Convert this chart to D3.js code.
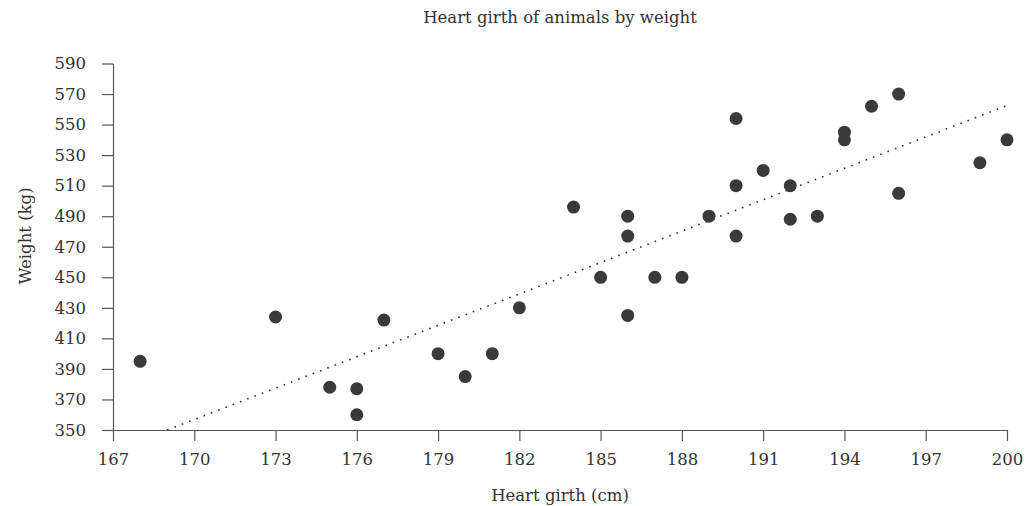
<!DOCTYPE html>
<html>
<head>
<meta charset="utf-8">
<script src="https://cdn.jsdelivr.net/npm/d3@7.9.0/dist/d3.min.js"></script>
<style>
  body { margin: 0; background: #fff; }
  svg text { font-family: "DejaVu Serif", serif; fill: #333; }
</style>
</head>
<body>
<div id="chart"></div>
<script>
// heart girth (cm) and weight (kg)
const girth  = [168, 173, 175, 176, 176, 177, 179, 180, 181, 182, 184, 185, 186, 186, 186, 187,
                188, 189, 190, 190, 190, 191, 192, 192, 193, 194, 194, 195, 196, 196, 199, 200];
const weight = [395, 424, 378, 377, 360, 422, 400, 385, 400, 430, 496, 450, 490, 477, 425, 450,
                450, 490, 554, 510, 477, 520, 510, 488, 490, 545, 540, 562, 570, 505, 525, 540];

// fitted trend line end points
const trendX = [169, 200];
const trendY = [350, 562.5];

const xTicks = [167, 170, 173, 176, 179, 182, 185, 188, 191, 194, 197, 200];
const yTicks = [350, 370, 390, 410, 430, 450, 470, 490, 510, 530, 550, 570, 590];

const width = 1029, height = 506;
const margin = { top: 63.5, right: 22, bottom: 76, left: 113 };

const svg = d3.select('#chart').append('svg')
  .attr('width', width)
  .attr('height', height);

const xScale = d3.scaleLinear().domain([167, 200]).range([margin.left, width - margin.right]);
const yScale = d3.scaleLinear().domain([350, 590]).range([height - margin.bottom, margin.top]);

// axes
svg.append('g')
  .attr('transform', `translate(0,${height - margin.bottom})`)
  .call(d3.axisBottom(xScale).tickValues(xTicks).tickSize(11).tickSizeOuter(0).tickPadding(12));

svg.append('g')
  .attr('transform', `translate(${margin.left},0)`)
  .call(d3.axisLeft(yScale).tickValues(yTicks).tickSize(11).tickSizeOuter(0).tickPadding(16));

svg.selectAll('.domain, .tick line').attr('stroke', '#555').attr('stroke-width', 1.2);
svg.selectAll('.tick text').attr('font-size', 16.5).attr('fill', '#333')
  .style('font-family', '"DejaVu Serif", serif');

// trend line
const trend = trendX.map((x, i) => [x, trendY[i]]);
svg.append('path')
  .datum(trend)
  .attr('d', d3.line().x(d => xScale(d[0])).y(d => yScale(d[1])))
  .attr('fill', 'none')
  .attr('stroke', '#333')
  .attr('stroke-width', 1.6)
  .attr('stroke-dasharray', '1.6 6.2');

// dots
const points = girth.map((g, i) => ({ g, w: weight[i] }));
svg.append('g')
  .selectAll('circle')
  .data(points)
  .join('circle')
  .attr('cx', d => xScale(d.g))
  .attr('cy', d => yScale(d.w))
  .attr('r', 6.5)
  .attr('fill', '#3a3a3a');

// labels
svg.append('text')
  .attr('x', (margin.left + width - margin.right) / 2)
  .attr('y', 23)
  .attr('text-anchor', 'middle')
  .attr('font-size', 16.5)
  .text('Heart girth of animals by weight');

svg.append('text')
  .attr('x', (margin.left + width - margin.right) / 2)
  .attr('y', 501)
  .attr('text-anchor', 'middle')
  .attr('font-size', 16.5)
  .text('Heart girth (cm)');

svg.append('text')
  .attr('transform', 'translate(31,236) rotate(-90)')
  .attr('text-anchor', 'middle')
  .attr('font-size', 16.5)
  .text('Weight (kg)');
</script>
</body>
</html>
